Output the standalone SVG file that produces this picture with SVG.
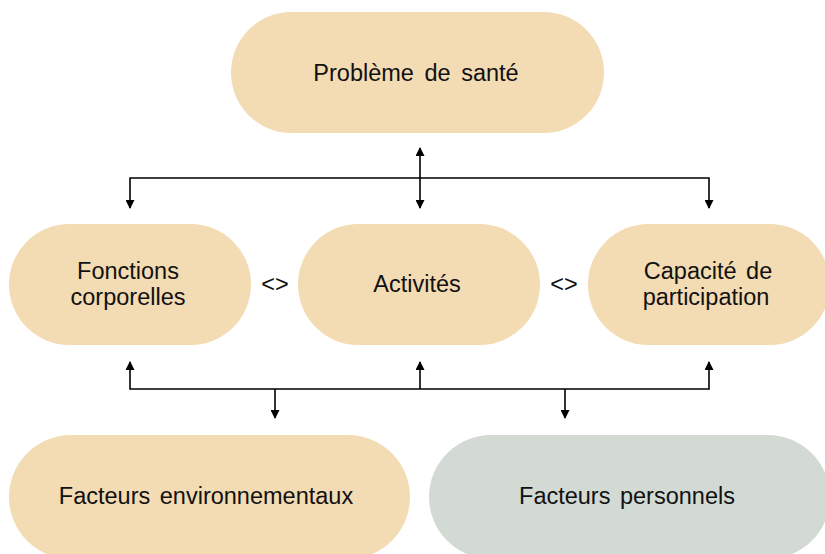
<svg xmlns="http://www.w3.org/2000/svg" width="825" height="554" viewBox="0 0 825 554">
  <style>
    .beige { fill: #F3DBB3; }
    .grey { fill: #D3DAD4; }
    .lbl { font-family: "Liberation Sans", Arial, sans-serif; font-size: 23.5px; fill: #111; text-anchor: middle; }
    .wire { fill: none; stroke: #000; stroke-width: 1.6; }
  </style>
  <defs>
    <marker id="head" viewBox="0 0 10 10" refX="9" refY="5" markerWidth="10" markerHeight="9" markerUnits="userSpaceOnUse" orient="auto-start-reverse">
      <path d="M0,0 L10,5 L0,10 z" fill="#000"/>
    </marker>
  </defs>
  <rect width="825" height="554" fill="#fff"/>

  <g id="probleme-sante">
    <rect class="beige" x="231" y="12" width="373" height="121" rx="60.5"/>
    <text class="lbl" x="416" y="81" word-spacing="4">Problème de santé</text>
  </g>

  <g id="fonctions-corporelles">
    <rect class="beige" x="9" y="224" width="242" height="121" rx="60.5"/>
    <text class="lbl" x="128" y="279">Fonctions</text>
    <text class="lbl" x="128" y="305">corporelles</text>
  </g>

  <g id="activites">
    <rect class="beige" x="298" y="224" width="242" height="121" rx="60.5"/>
    <text class="lbl" x="417" y="292">Activités</text>
  </g>

  <g id="capacite-participation">
    <rect class="beige" x="588" y="224" width="242" height="121" rx="60.5"/>
    <text class="lbl" x="708" y="279" word-spacing="3">Capacité de</text>
    <text class="lbl" x="706" y="305">participation</text>
  </g>

  <g id="facteurs-environnementaux">
    <rect class="beige" x="9" y="435" width="401" height="124" rx="62"/>
    <text class="lbl" x="206" y="504" word-spacing="3">Facteurs environnementaux</text>
  </g>

  <g id="facteurs-personnels">
    <rect class="grey" x="429" y="435" width="401" height="124" rx="62"/>
    <text class="lbl" x="627" y="504" word-spacing="3">Facteurs personnels</text>
  </g>

  <g id="connectors">
    <!-- upper bus -->
    <path class="wire" d="M420,148 V208" marker-start="url(#head)" marker-end="url(#head)"/>
    <path class="wire" d="M130,208 V178 H709 V208" marker-start="url(#head)" marker-end="url(#head)"/>
    <!-- lower bus -->
    <path class="wire" d="M130,362 V389 H709 V362" marker-start="url(#head)" marker-end="url(#head)"/>
    <path class="wire" d="M420,389 V362" marker-end="url(#head)"/>
    <path class="wire" d="M275,389 V418" marker-end="url(#head)"/>
    <path class="wire" d="M565,389 V418" marker-end="url(#head)"/>
    <!-- bidirectional links between the middle nodes -->
    <text class="lbl" x="275" y="292">&lt;&gt;</text>
    <text class="lbl" x="564" y="292">&lt;&gt;</text>
  </g>
</svg>
